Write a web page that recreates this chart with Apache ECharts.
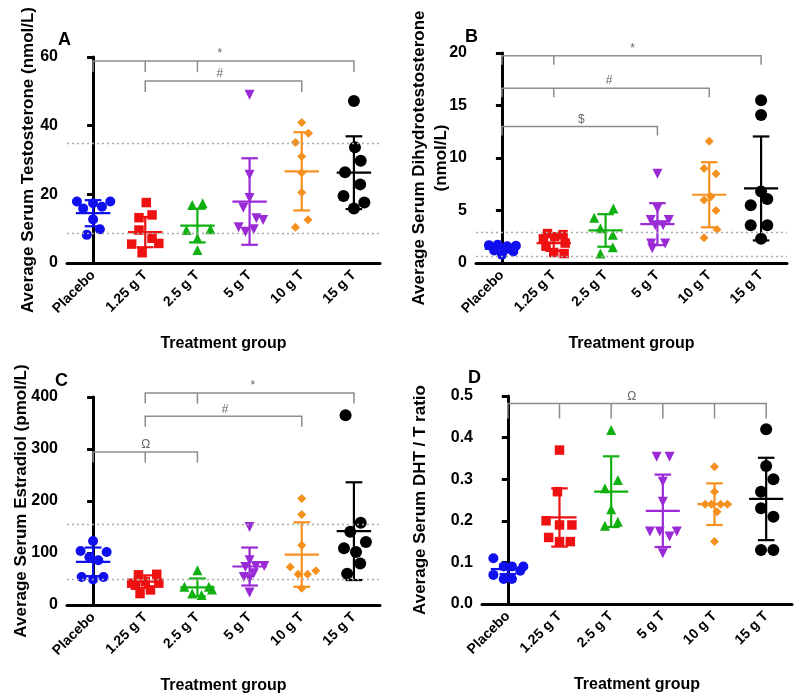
<!DOCTYPE html>
<html><head><meta charset="utf-8">
<script src="https://cdn.jsdelivr.net/npm/echarts@6/dist/echarts.min.js"></script>
<style>html,body{margin:0;padding:0;background:#fff}#c{width:800px;height:696px}</style>
</head><body><div id="c"></div>
<script>
// ---------- categories ----------
const groups = ['Placebo', '1.25 g T', '2.5 g T', '5 g T', '10 g T', '15 g T'];

// ---------- Panel A: Testosterone (nmol/L) ----------
const testoPlacebo = [17.9, 15.9, 17.4, 16.4, 17.9, 12.7, 8.2, 9.8];
const testo125 = [17.6, 14.0, 13.2, 9.6, 7.2, 5.5, 5.7, 3.0];
const testo25 = [16.9, 17.4, 9.6, 9.8, 7.2, 3.8];
const testo5 = [49, 25.7, 18.9, 16.1, 13.0, 12.5, 10.4, 9.8, 9.1];
const testo10 = [40.9, 37.8, 35.1, 31.0, 26.3, 20.5, 12.6, 10.4];
const testo15 = [47.2, 33.7, 29.8, 26.4, 22.9, 19.5, 17.6, 15.9];
const testoMean = [14.5, 9.0, 10.9, 17.9, 26.7, 26.3];
const testoSD = [3.8, 4.4, 4.9, 12.6, 11.4, 10.6];
const testoRef = [35, 8.8];

// ---------- Panel B: DHT (nmol/L) ----------
const dhtPlacebo = [1.7, 1.75, 1.6, 1.65, 1.2, 1.3, 1.1, 0.8];
const dht125 = [2.8, 2.7, 2.5, 2.3, 1.9, 1.6, 1.0, 0.9];
const dht25 = [4.3, 5.2, 3.3, 2.7, 1.5, 0.9];
const dht5 = [8.5, 5.2, 4.1, 4.1, 3.6, 3.6, 1.85, 1.85, 1.4];
const dht10 = [11.6, 9.0, 8.5, 6.0, 6.3, 5.0, 2.4, 3.2];
const dht15 = [15.5, 14.1, 6.8, 5.5, 6.1, 3.6, 3.6, 2.3];
const dhtMean = [1.35, 1.9, 3.1, 3.7, 6.5, 7.1];
const dhtSD = [0.35, 0.75, 1.55, 2.0, 3.1, 4.95];
const dhtRef = [2.95, 0.65];

// ---------- Panel C: Estradiol (pmol/L) ----------
const e2Placebo = [123, 104, 102, 92, 86, 54, 49, 54];
const e2125 = [58, 59, 42, 45, 42, 22, 29, 38];
const e225 = [67, 35, 35, 30, 22, 19];
const e25 = [150, 86, 73, 75, 75, 54, 51, 61, 24];
const e210 = [205, 174, 115, 73, 66, 59, 59, 32];
const e215 = [365, 158, 141, 121, 109, 102, 80, 60];
const e2Mean = [83, 45, 34, 74, 97, 142];
const e2SD = [27.5, 12, 17, 36.5, 62, 94];
const e2Ref = [155, 49];

// ---------- Panel D: DHT / T ratio ----------
const ratioPlacebo = [0.11, 0.09, 0.09, 0.09, 0.07, 0.06, 0.06, 0.08];
const ratio125 = [0.37, 0.27, 0.20, 0.19, 0.19, 0.16, 0.15, 0.15];
const ratio25 = [0.418, 0.298, 0.278, 0.228, 0.188, 0.198];
const ratio5 = [0.354, 0.354, 0.294, 0.246, 0.174, 0.174, 0.162, 0.174, 0.122];
const ratio10 = [0.33, 0.27, 0.24, 0.24, 0.24, 0.24, 0.222, 0.15];
const ratio15 = [0.42, 0.332, 0.30, 0.27, 0.23, 0.21, 0.13, 0.13];
const ratioMean = [0.084, 0.208, 0.27, 0.224, 0.24, 0.2525];
const ratioSD = [0.012, 0.07, 0.085, 0.087, 0.05, 0.099];

// ---------- significance brackets (category index span, level) ----------
const testoBrackets = [
  { label: '*', level: 58.8, from: 0, to: 5, ticks: [0, 1, 2, 5], at: 2.43 },
  { label: '#', level: 53.0, from: 1, to: 4, ticks: [1, 4], at: 2.43 }
];
const dhtBrackets = [
  { label: '*', level: 19.74, from: 0, to: 5, ticks: [0, 1, 5], at: 2.52 },
  { label: '#', level: 16.65, from: 0, to: 4, ticks: [0, 1, 4], at: 2.07 },
  { label: '$', level: 13.0, from: 0, to: 3, ticks: [0, 3], at: 1.53 }
];
const e2Brackets = [
  { label: '*', level: 407.5, from: 1, to: 5, ticks: [1, 2, 5], at: 3.06 },
  { label: '#', level: 362.8, from: 1, to: 4, ticks: [1, 4], at: 2.53 },
  { label: 'Ω', level: 294, from: 0, to: 2, ticks: [0, 1, 2], at: 1.01 }
];
const ratioBrackets = [
  { label: 'Ω', level: 0.482, from: 0, to: 5, ticks: [0, 1, 2, 3, 4, 5], at: 2.4 }
];

// ---------- horizontal spread of dots inside each column (layout) ----------
const jitterA = [
  [-0.31, -0.19, 0, 0.17, 0.33, 0, -0.12, 0.13],
  [0.02, 0.13, -0.12, -0.12, 0.13, -0.26, 0.26, -0.06],
  [-0.1, 0.1, -0.21, 0.25, 0, 0],
  [0, 0, 0, -0.12, 0.13, 0.26, -0.21, 0.08, -0.08],
  [0, 0.13, -0.12, 0, 0, 0, 0.12, -0.12],
  [0, 0.02, 0.13, -0.17, 0.12, -0.2, 0.2, 0]
];
const jitterB = [
  [-0.25, -0.08, 0.1, 0.27, -0.15, 0.05, 0.22, 0],
  [-0.12, 0.18, 0.02, -0.2, 0.22, -0.15, 0.0, 0.2],
  [-0.22, 0.15, -0.1, 0.14, 0.14, -0.1],
  [0, 0, -0.13, 0.22, -0.04, 0.11, -0.12, 0.15, -0.1],
  [0, -0.1, 0.13, -0.1, 0.03, 0.13, -0.1, 0.15],
  [0, 0, 0, -0.2, 0.12, -0.2, 0.12, 0]
];
const jitterC = [
  [0, -0.24, 0.26, -0.07, 0.1, -0.22, 0, 0.2],
  [-0.13, 0.22, -0.26, 0, 0.26, -0.1, 0.1, -0.19],
  [0, -0.25, 0.22, 0.28, -0.1, 0.08],
  [0, 0, -0.08, 0.12, 0.28, -0.11, 0, 0.08, 0],
  [0, 0, 0, -0.22, 0.27, -0.07, 0.11, 0],
  [-0.16, 0.13, -0.07, 0.23, -0.19, 0.04, 0.12, -0.13]
];
const jitterD = [
  [-0.28, -0.08, 0.08, 0.3, -0.28, -0.08, 0.08, 0.24],
  [0, -0.04, -0.26, 0, 0.24, -0.21, 0, 0.21],
  [0, 0.13, -0.12, 0, -0.12, 0.13],
  [-0.12, 0.13, 0, 0, -0.25, -0.06, 0.13, 0.27, 0],
  [0, 0, -0.18, 0.12, 0.25, -0.06, 0.05, 0],
  [0, 0, 0.14, -0.1, -0.1, 0.14, -0.1, 0.14]
];

// ---------- styles ----------
const colors = ['#1010ee', '#ee1111', '#11b011', '#9a2ad6', '#f5901e', '#000000'];
const symbols = ['circle', 'rect', 'triangle', 'triangle', 'diamond', 'circle'];
const symRot = [0, 0, 0, 180, 0, 0];
const symSize = [10, 9.5, 10, 10, 9, 12];
const FONT = '"Liberation Sans", Arial, Helvetica, sans-serif';

const panels = [
  { values: [testoPlacebo, testo125, testo25, testo5, testo10, testo15], mean: testoMean, sd: testoSD, ref: testoRef, brackets: testoBrackets, jitter: jitterA,
    grid: { left: 67, top: 57, width: 313, height: 206 }, y: { min: 0, max: 60, interval: 20 },
    yName: 'Average Serum Testosterone (nmol/L)', yGap: 28, dec: 0, drop: 11 },
  { values: [dhtPlacebo, dht125, dht25, dht5, dht10, dht15], mean: dhtMean, sd: dhtSD, ref: dhtRef, brackets: dhtBrackets, jitter: jitterB,
    grid: { left: 476, top: 53, width: 311, height: 210 }, y: { min: 0, max: 20, interval: 5 },
    yName: 'Average Serum Dihydrotestosterone\n(nmol/L)', yGap: 24, dec: 0, drop: 9 },
  { values: [e2Placebo, e2125, e225, e25, e210, e215], mean: e2Mean, sd: e2SD, ref: e2Ref, brackets: e2Brackets, jitter: jitterC,
    grid: { left: 67, top: 397, width: 313, height: 208 }, y: { min: 0, max: 400, interval: 100 },
    yName: 'Average Serum Estradiol (pmol/L)', yGap: 35, dec: 0, drop: 10.5 },
  { values: [ratioPlacebo, ratio125, ratio25, ratio5, ratio10, ratio15], mean: ratioMean, sd: ratioSD, ref: [], brackets: ratioBrackets, jitter: jitterD,
    grid: { left: 482, top: 396, width: 310, height: 208 }, y: { min: 0, max: 0.5, interval: 0.1 },
    yName: 'Average Serum DHT / T ratio', yGap: 51, dec: 1, drop: 15 }
];

const grids = [], xAxes = [], yAxes = [], series = [];

panels.forEach((p, pi) => {
  grids.push(p.grid);
  // visible category axis (labels + ticks)
  xAxes.push({
    gridIndex: pi, type: 'category', data: groups, boundaryGap: true,
    axisLine: { lineStyle: { color: '#000', width: 3 } },
    axisTick: { alignWithLabel: true, length: 7, lineStyle: { color: '#000', width: 3 } },
    axisLabel: { rotate: 45, margin: 10, color: '#000', fontWeight: 'bold', fontSize: 14, fontFamily: FONT, interval: 0 },
    splitLine: { show: false },
    name: 'Treatment group', nameLocation: 'middle', nameGap: 73, nameMoveOverlap: false,
    nameTextStyle: { color: '#000', fontWeight: 'bold', fontSize: 16, fontFamily: FONT }
  });
  // hidden value axis used to place the marks
  xAxes.push({ gridIndex: pi, type: 'value', min: -0.5, max: 5.5, show: false });
  yAxes.push({
    gridIndex: pi, type: 'value', min: p.y.min, max: p.y.max, interval: p.y.interval,
    axisLine: { show: true, lineStyle: { color: '#000', width: 3 } },
    axisTick: { show: true, length: 6, lineStyle: { color: '#000', width: 3 } },
    splitLine: { show: false },
    axisLabel: { margin: 9, color: '#000', fontWeight: 'bold', fontSize: 16, fontFamily: FONT,
      formatter: v => p.dec ? v.toFixed(p.dec) : String(v) },
    name: p.yName, nameLocation: 'middle', nameGap: p.yGap, nameMoveOverlap: false,
    nameTextStyle: { color: '#000', fontWeight: 'bold', fontSize: 17, fontFamily: FONT, lineHeight: 22 }
  });
  const xIdx = pi * 2 + 1;

  // reference (dotted) lines
  if (p.ref.length) {
    series.push({
      type: 'line', xAxisIndex: xIdx, yAxisIndex: pi, data: [], silent: true,
      markLine: { silent: true, symbol: 'none', label: { show: false },
        lineStyle: { type: [2, 3], color: '#aaaaaa', width: 1.4 },
        data: p.ref.map(v => ({ yAxis: v })) }
    });
  }

  // dots
  p.values.forEach((vals, gi) => {
    series.push({
      type: 'scatter', xAxisIndex: xIdx, yAxisIndex: pi, z: 3,
      symbol: symbols[gi], symbolRotate: symRot[gi], symbolSize: symSize[gi],
      itemStyle: { color: colors[gi], opacity: 1 },
      data: vals.map((v, k) => [gi + p.jitter[gi][k], v])
    });
  });

  // mean ± SD
  series.push({
    type: 'custom', xAxisIndex: xIdx, yAxisIndex: pi, z: 4, silent: true,
    data: p.mean.map((m, gi) => [gi, m, p.sd[gi]]),
    renderItem: (params, api) => {
      const x = api.value(0), m = api.value(1), s = api.value(2);
      const c = colors[params.dataIndex];
      const st = { stroke: c, lineWidth: 2.2 };
      const a = api.coord([x - 0.33, m]), b = api.coord([x + 0.33, m]);
      const t = api.coord([x, m + s]), bo = api.coord([x, m - s]);
      const t1 = api.coord([x - 0.16, m + s]), t2 = api.coord([x + 0.16, m + s]);
      const b1 = api.coord([x - 0.16, m - s]), b2 = api.coord([x + 0.16, m - s]);
      return { type: 'group', children: [
        { type: 'line', shape: { x1: a[0], y1: a[1], x2: b[0], y2: b[1] }, style: st },
        { type: 'line', shape: { x1: t[0], y1: t[1], x2: bo[0], y2: bo[1] }, style: st },
        { type: 'line', shape: { x1: t1[0], y1: t1[1], x2: t2[0], y2: t2[1] }, style: st },
        { type: 'line', shape: { x1: b1[0], y1: b1[1], x2: b2[0], y2: b2[1] }, style: st }
      ] };
    }
  });

  // significance brackets
  series.push({
    type: 'custom', xAxisIndex: xIdx, yAxisIndex: pi, z: 2, silent: true, clip: false,
    data: p.brackets.map(b => [b.from, b.level]),
    renderItem: (params, api) => {
      const b = p.brackets[params.dataIndex];
      const st = { stroke: '#8c8c8c', lineWidth: 1.5 };
      const p0 = api.coord([b.from, b.level]), p1 = api.coord([b.to, b.level]);
      const ch = [{ type: 'line', shape: { x1: p0[0] - 0.7, y1: p0[1], x2: p1[0] + 0.7, y2: p1[1] }, style: st }];
      b.ticks.forEach(t => {
        const q = api.coord([t, b.level]);
        ch.push({ type: 'line', shape: { x1: q[0], y1: q[1], x2: q[0], y2: q[1] + p.drop }, style: st });
      });
      const lp = api.coord([b.at, b.level]);
      ch.push({ type: 'text', x: lp[0], y: lp[1] - 1,
        style: { text: b.label, align: 'center', verticalAlign: 'bottom', fill: '#666666', font: '12px ' + FONT } });
      return { type: 'group', children: ch };
    }
  });
});

const letters = [['A', 58, 31], ['B', 465, 28], ['C', 55, 372], ['D', 468, 369]];

const chart = echarts.init(document.getElementById('c'), null, { renderer: 'canvas' });
chart.setOption({
  animation: false,
  backgroundColor: '#fff',
  grid: grids, xAxis: xAxes, yAxis: yAxes, series: series,
  graphic: letters.map(l => ({ type: 'text', left: l[1], top: l[2],
    style: { text: l[0], fill: '#000', font: 'bold 18px ' + FONT } }))
});
</script></body></html>
